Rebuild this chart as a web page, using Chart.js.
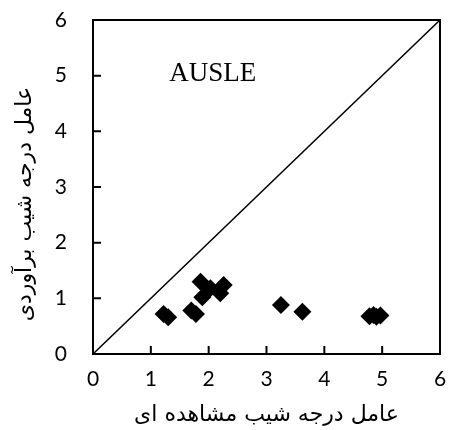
<!DOCTYPE html>
<html>
<head>
<meta charset="utf-8">
<script src="https://cdn.jsdelivr.net/npm/chart.js@4/dist/chart.umd.min.js"></script>
<style>
  html, body { margin: 0; padding: 0; background: #fff; }
  #wrap { width: 449px; height: 430px; }
</style>
</head>
<body>
<div id="wrap"><canvas id="ausleChart" width="449" height="430"></canvas></div>
<script>
// observed vs estimated slope factor (AUSLE)
const observed  = [1.22, 1.30, 1.70, 1.78, 1.86, 1.89, 2.03, 2.20, 2.26, 3.25, 3.62, 4.78, 4.85, 4.90, 4.97];
const estimated = [0.72, 0.66, 0.78, 0.72, 1.30, 1.02, 1.18, 1.09, 1.24, 0.88, 0.76, 0.68, 0.70, 0.67, 0.69];
const oneToOne  = [0, 6];
const tickValues = [0, 1, 2, 3, 4, 5, 6];

const xTitle = "عامل درجه شیب مشاهده ای";
const yTitle = "عامل درجه شیب برآوردی";
const modelName = "AUSLE";
const labelAt = {x: 2.07, y: 5.04};

// frame, inward ticks and texts
const framePlugin = {
    id: "frame",
    afterDraw(chart){
        const ctx = chart.ctx;
        const a = chart.chartArea;
        const xs = chart.scales.x, ys = chart.scales.y;
        ctx.save();
        ctx.strokeStyle = "#000";
        ctx.lineWidth = 2;
        ctx.strokeRect(a.left, a.top, a.right - a.left, a.bottom - a.top);

        ctx.beginPath();
        tickValues.slice(1, -1).forEach(v => {
            const px = xs.getPixelForValue(v);
            ctx.moveTo(px, a.bottom);
            ctx.lineTo(px, a.bottom - 8);
            const py = ys.getPixelForValue(v);
            ctx.moveTo(a.left, py);
            ctx.lineTo(a.left + 8, py);
        });
        ctx.stroke();

        ctx.fillStyle = "#000";
        ctx.font = "27px 'Liberation Serif'";
        ctx.textAlign = "center";
        ctx.textBaseline = "middle";
        ctx.fillText(modelName, xs.getPixelForValue(labelAt.x), ys.getPixelForValue(labelAt.y));

        ctx.font = "22px 'DejaVu Sans'";
        ctx.fillText(xTitle, (a.left + a.right) / 2, 415);

        ctx.translate(25, 204);
        ctx.rotate(-Math.PI / 2);
        ctx.fillText(yTitle, 0, 0);
        ctx.restore();
    }
};

new Chart(document.getElementById("ausleChart"), {
    type: "scatter",
    data: {
        datasets: [
            {
                data: observed.map((x, i) => ({x: x, y: estimated[i]})),
                pointStyle: "rectRot",
                pointRadius: 9,
                pointHoverRadius: 9,
                backgroundColor: "#000",
                borderWidth: 0
            },
            {
                data: oneToOne.map(v => ({x: v, y: v})),
                showLine: true,
                pointRadius: 0,
                borderColor: "#000",
                borderWidth: 1.5
            }
        ]
    },
    options: {
        responsive: false,
        animation: false,
        layout: {padding: {top: 20, right: 7, left: 0, bottom: 0}},
        plugins: {
            legend: {display: false},
            tooltip: {enabled: false}
        },
        scales: {
            x: {
                min: 0, max: 6,
                afterBuildTicks: s => { s.ticks = tickValues.map(v => ({value: v})); },
                afterFit: s => { s.height = 76; s.paddingLeft = 0; s.paddingRight = 0; },
                grid: {display: false, drawTicks: false},
                border: {display: false},
                ticks: {
                    color: "#000",
                    padding: 13,
                    maxRotation: 0,
                    font: {family: "Lato", size: 21}
                }
            },
            y: {
                min: 0, max: 6,
                afterBuildTicks: s => { s.ticks = tickValues.map(v => ({value: v})); },
                afterFit: s => { s.width = 93; s.paddingTop = 0; s.paddingBottom = 0; },
                grid: {display: false, drawTicks: false},
                border: {display: false},
                ticks: {
                    color: "#000",
                    padding: 26,
                    font: {family: "Lato", size: 21}
                }
            }
        }
    },
    plugins: [framePlugin]
});
</script>
</body>
</html>
